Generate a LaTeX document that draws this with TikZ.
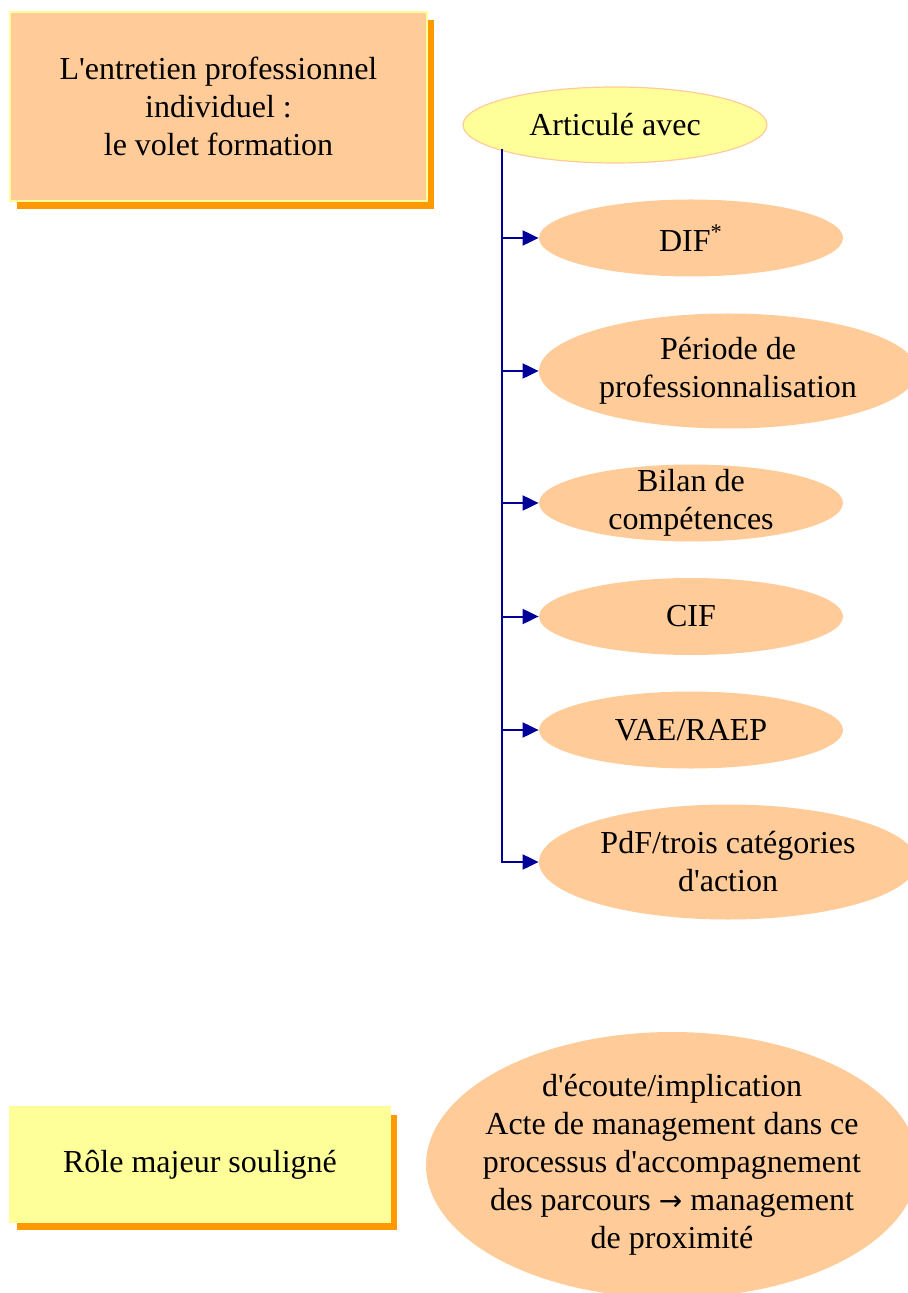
\documentclass[tikz,border=0pt]{standalone}
\usepackage{fontspec}
\setmainfont{Liberation Serif}
\newfontfamily\symfont{DejaVu Sans}
\usetikzlibrary{positioning, shapes.geometric, arrows.meta, shadows}

\definecolor{peach}{HTML}{FFCC99}
\definecolor{paleyellow}{HTML}{FFFF99}
\definecolor{deeporange}{HTML}{FF9900}
\definecolor{linknavy}{HTML}{000099}

\newcommand{\apos}{\textquotesingle}

\tikzset{
  every node/.style={font=\fontsize{16}{19}\selectfont, align=center, inner sep=0pt},
  orangeshadow/.style={drop shadow={shadow xshift=3.5pt, shadow yshift=-4pt, fill=deeporange, opacity=1}},
  titlebox/.style={rectangle, fill=peach, draw=paleyellow, line width=0.8pt, orangeshadow},
  notebox/.style={rectangle, fill=paleyellow, draw=paleyellow, line width=0.8pt, orangeshadow},
  headoval/.style={ellipse, fill=paleyellow, draw=peach, line width=0.6pt},
  itemoval/.style={ellipse, fill=peach, inner xsep=-20pt, inner ysep=-8pt, minimum width=152pt, minimum height=38.5pt},
  bigoval/.style={ellipse, fill=peach, inner xsep=-30pt, inner ysep=-8pt, minimum width=189pt, minimum height=57.5pt},
  link/.style={->, draw=linknavy, line width=1pt}
}

\begin{document}
\begin{tikzpicture}[x=0.5pt, y=-0.5pt, >={Triangle[length=8pt, width=7.5pt]}]
  \useasboundingbox (0,0) rectangle (908,1293);

  % title
  \node[titlebox, minimum width=208.5pt, minimum height=94.5pt] (title) at (218.5,106.5)
    {L\apos entretien professionnel\\ individuel :\\ le volet formation};

  % articulation
  \node[headoval, minimum width=152pt, minimum height=38pt] (art) at (615,125) {Articulé avec};

  \node[itemoval] (dif) at (691,238) {DIF\textsuperscript{*}};
  \node[bigoval] (per) at (728,371) {Période de\\ professionnalisation};
  \node[itemoval] (bil) at (691,503) {Bilan de\\ compétences};
  \node[itemoval] (cif) at (691,616.5) {CIF};
  \node[itemoval] (vae) at (691,730) {VAE/RAEP};
  \node[bigoval] (pdf) at (728,862) {PdF/trois catégories\\ d\apos action};

  \coordinate (trunk) at (502,149);
  \foreach \n in {dif,per,bil,cif,vae,pdf}
    \draw[link] (trunk) |- (\n.west);

  % role
  \node[notebox, minimum width=190pt, minimum height=57.5pt] (role) at (200,1164.5) {Rôle majeur souligné};
  \node[ellipse, fill=peach, inner xsep=-60pt, inner ysep=-20pt, minimum width=246pt, minimum height=133pt] (mgt) at (672,1165)
    {d\apos écoute/implication\\ Acte de management dans ce\\ processus d\apos accompagnement\\
     des parcours {\symfont\fontsize{14}{19}\selectfont →} management\\ de proximité};
\end{tikzpicture}
\end{document}
